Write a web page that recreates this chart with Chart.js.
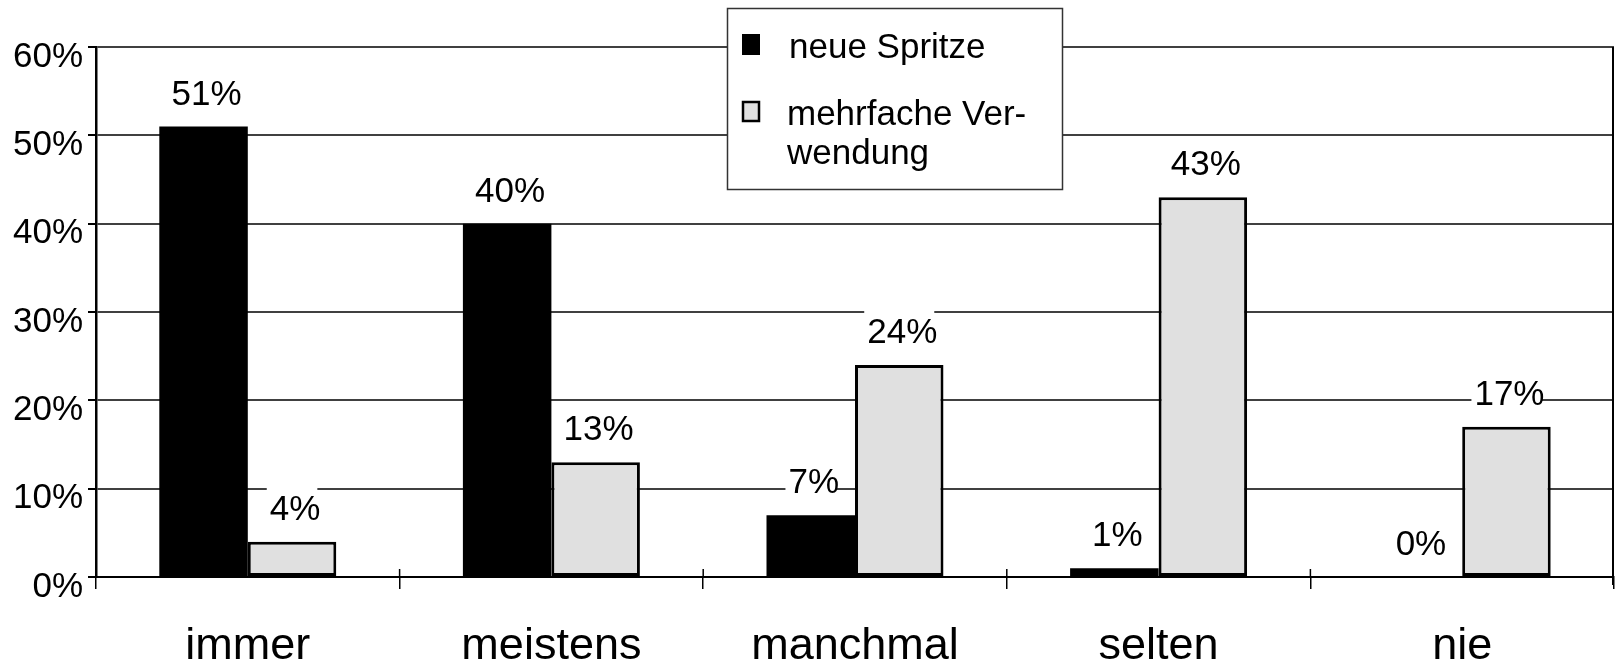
<!DOCTYPE html>
<html lang="de">
<head>
    <meta charset="UTF-8">
    <title>Spritzen-Verwendung</title>
    <script src="https://cdn.jsdelivr.net/npm/chart.js"></script>
    <style>
        body { margin: 0; background: #ffffff; }
    </style>
</head>
<body>
    <canvas id="spritzenChart" width="1620" height="660"></canvas>

    <script>
        // Chart data
        const categories = ['immer', 'meistens', 'manchmal', 'selten', 'nie'];
        const neueSpritze = [51, 40, 7, 1, 0];
        const mehrfacheVerwendung = [4, 13, 24, 43, 17];
        const seriesNames = ['neue Spritze', 'mehrfache Verwendung'];
        const legendLines = [['neue Spritze'], ['mehrfache Ver-', 'wendung']];
        const yMax = 60;
        const yStep = 10;

        const FONT = "'Liberation Sans', Arial, sans-serif";

        // value labels above bars, white box behind so gridlines get cut
        const valueLabels = {
            id: 'valueLabels',
            afterDatasetsDraw(chart) {
                const ctx = chart.ctx;
                ctx.save();
                ctx.font = '35px ' + FONT;
                ctx.textAlign = 'center';
                ctx.textBaseline = 'alphabetic';
                chart.data.datasets.forEach((ds, i) => {
                    chart.getDatasetMeta(i).data.forEach((bar, j) => {
                        const txt = ds.data[j] + '%';
                        const w = ctx.measureText(txt).width;
                        const base = bar.y - 22;
                        ctx.fillStyle = '#ffffff';
                        ctx.fillRect(bar.x - w / 2, base - 33, w, 36);
                        ctx.fillStyle = '#000000';
                        ctx.fillText(txt, bar.x + 3, base);
                    });
                });
                ctx.restore();
            }
        };

        // right border of the plot and the small category ticks above the axis
        const frame = {
            id: 'frame',
            beforeDatasetsDraw(chart) {
                const { ctx, chartArea } = chart;
                const xs = chart.scales.x;
                ctx.save();
                ctx.strokeStyle = '#000000';
                ctx.lineWidth = 2;
                ctx.beginPath();
                ctx.moveTo(chartArea.right - 1, chartArea.top);
                ctx.lineTo(chartArea.right - 1, chartArea.bottom + 8);
                ctx.stroke();
                ctx.lineWidth = 1.5;
                for (let i = 1; i < categories.length; i++) {
                    const x = xs.left + i * (xs.right - xs.left) / categories.length;
                    ctx.beginPath();
                    ctx.moveTo(x, chartArea.bottom - 8);
                    ctx.lineTo(x, chartArea.bottom);
                    ctx.stroke();
                }
                ctx.restore();
            }
        };

        // boxed legend sitting over the top gridlines
        const boxLegend = {
            id: 'boxLegend',
            afterDraw(chart) {
                const ctx = chart.ctx;
                const x0 = 727, y0 = 8, w = 335, h = 181;
                ctx.save();
                ctx.fillStyle = '#ffffff';
                ctx.fillRect(x0, y0, w, h);
                ctx.strokeStyle = '#333333';
                ctx.lineWidth = 1.5;
                ctx.strokeRect(x0 + 0.5, y0 + 0.5, w, h);

                ctx.font = '35px ' + FONT;
                ctx.textAlign = 'left';
                ctx.textBaseline = 'alphabetic';
                const rows = [58, 125];
                chart.data.datasets.forEach((ds, i) => {
                    const top = rows[i] - 24;
                    ctx.fillStyle = ds.backgroundColor;
                    ctx.fillRect(742, top, 18, 21);
                    if (i === 1) {
                        ctx.strokeStyle = '#000000';
                        ctx.lineWidth = 2.5;
                        ctx.strokeRect(743, top + 1, 16, 19);
                    }
                    ctx.fillStyle = '#000000';
                    legendLines[i].forEach((line, k) => {
                        ctx.fillText(line, i === 0 ? 789 : 787, rows[i] + k * 39);
                    });
                });
                ctx.restore();
            }
        };

        const ctx = document.getElementById('spritzenChart').getContext('2d');
        new Chart(ctx, {
            type: 'bar',
            data: {
                labels: categories,
                datasets: [
                    {
                        label: seriesNames[0],
                        data: neueSpritze,
                        backgroundColor: '#000000',
                        borderColor: '#000000',
                        borderWidth: 0,
                        categoryPercentage: 0.583,
                        barPercentage: 1.0
                    },
                    {
                        label: seriesNames[1],
                        data: mehrfacheVerwendung,
                        backgroundColor: '#e0e0e0',
                        borderColor: '#000000',
                        borderWidth: 3,
                        borderSkipped: false,
                        categoryPercentage: 0.583,
                        barPercentage: 1.0
                    }
                ]
            },
            options: {
                responsive: false,
                animation: false,
                layout: { padding: { top: 47, right: 6, left: 0, bottom: 0 } },
                plugins: {
                    legend: { display: false },
                    tooltip: { enabled: false }
                },
                scales: {
                    x: {
                        afterFit(scale) { scale.height = 83; },
                        grid: {
                            offset: true,
                            drawOnChartArea: false,
                            color: '#000000',
                            lineWidth: 1.5,
                            tickLength: 12
                        },
                        border: { color: '#000000', width: 2 },
                        ticks: {
                            color: '#000000',
                            padding: 31,
                            font: { family: FONT, size: 45 }
                        }
                    },
                    y: {
                        min: 0,
                        max: yMax,
                        afterFit(scale) { scale.width = 96; },
                        grid: {
                            color: '#404040',
                            lineWidth: 2,
                            tickColor: '#000000',
                            tickLength: 8
                        },
                        border: { color: '#000000', width: 2.5 },
                        ticks: {
                            stepSize: yStep,
                            color: '#000000',
                            padding: 5,
                            labelOffset: 10,
                            font: { family: FONT, size: 35 },
                            callback: v => v + '%'
                        }
                    }
                }
            },
            plugins: [frame, valueLabels, boxLegend]
        });
    </script>
</body>
</html>
